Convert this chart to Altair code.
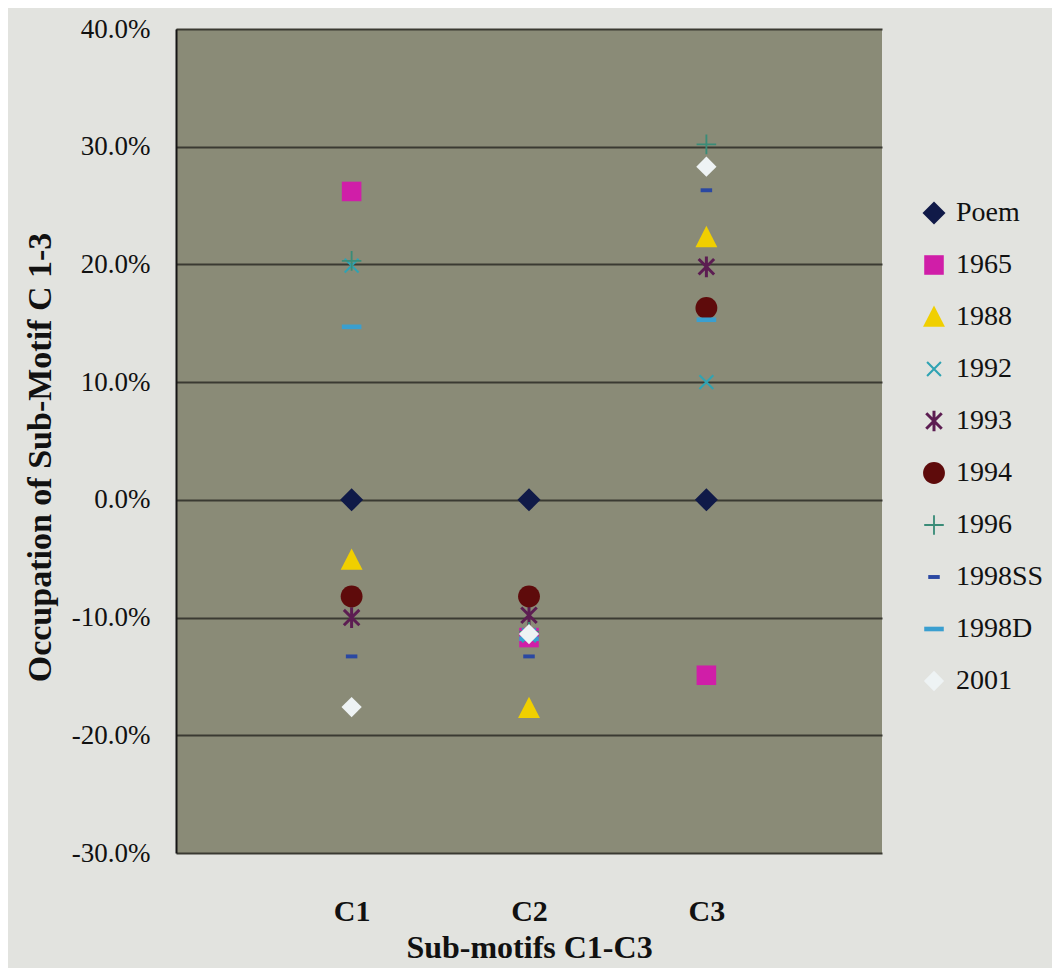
import math
import altair as alt
import pandas as pd

# ---- data ----
categories = ["C1", "C2", "C3"]
series = ["Poem", "1965", "1988", "1992", "1993", "1994", "1996", "1998SS", "1998D", "2001"]
c1_values = [0.000, 0.262, -0.051, 0.199, -0.100, -0.082, 0.203, -0.133, 0.147, -0.176]
c2_values = [0.000, -0.117, -0.177, -0.115, -0.098, -0.082, -0.112, -0.133, -0.118, -0.114]
c3_values = [0.000, -0.149, 0.223, 0.100, 0.198, 0.163, 0.302, 0.263, 0.153, 0.283]
y_ticks = [-0.3, -0.2, -0.1, 0.0, 0.1, 0.2, 0.3, 0.4]

colors = ["#101a48", "#d01ea8", "#f0cf00", "#2fa3b3", "#5c1d52", "#5e0b0b",
          "#3a8c78", "#2a48a2", "#3a9fd0", "#eef3f4"]


# ---- marker shapes (style only) ----
def bar(length, half_t, angle_deg):
    a = math.radians(angle_deg)
    ca, sa = math.cos(a), math.sin(a)
    pts = [(-length, -half_t), (length, -half_t), (length, half_t), (-length, half_t)]
    rp = [(x * ca - y * sa, x * sa + y * ca) for x, y in pts]
    return "M" + " L".join(f"{x:.3f},{y:.3f}" for x, y in rp) + " Z"


diamond = "M-1,0 L0,-1 L1,0 L0,1 Z"
square = "M-0.85,-0.85 L0.85,-0.85 L0.85,0.85 L-0.85,0.85 Z"
triangle = "M0,-1 L0.95,0.85 L-0.95,0.85 Z"
xmark = bar(0.85, 0.09, 45) + " " + bar(0.85, 0.09, -45)
star = bar(0.95, 0.13, 45) + " " + bar(0.95, 0.13, -45) + " " + bar(0.9, 0.13, 90)
circle = "M0.95,0 A0.95,0.95 0 1,1 -0.95,0 A0.95,0.95 0 1,1 0.95,0 Z"
plus = bar(0.85, 0.08, 0) + " " + bar(0.85, 0.08, 90)
dash_small = "M-0.5,-0.17 L0.5,-0.17 L0.5,0.17 L-0.5,0.17 Z"
dash_long = "M-0.85,-0.2 L0.85,-0.2 L0.85,0.2 L-0.85,0.2 Z"
diamond_small = "M-0.88,0 L0,-0.88 L0.88,0 L0,0.88 Z"
shapes = [diamond, square, triangle, xmark, star, circle, plus, dash_small, dash_long, diamond_small]

rows = []
for i, s in enumerate(series):
    for cat, vals in zip(categories, [c1_values, c2_values, c3_values]):
        rows.append({"category": cat, "series": s, "value": vals[i], "order": i})
df = pd.DataFrame(rows)

FONT = "'Liberation Serif', 'Times New Roman', Times, serif"

legend = alt.Legend(
    title=None, orient="none", legendX=744, legendY=170, padding=0,
    labelFont=FONT, labelFontSize=28, labelColor="#111111",
    symbolSize=530, symbolStrokeWidth=0, symbolOpacity=1,
    rowPadding=24, labelOffset=8,
)

chart = alt.Chart(df).mark_point(filled=True, size=530, opacity=1, strokeWidth=0).encode(
    x=alt.X("category:N", sort=categories,
            scale=alt.Scale(type="point", padding=0.99),
            axis=alt.Axis(title="Sub-motifs C1-C3", labelAngle=0, labelFont=FONT,
                          labelFontSize=30, labelFontWeight="bold", labelColor="#111111",
                          labelPadding=43, ticks=False, domain=False, grid=False,
                          titleFont=FONT, titleFontSize=32, titleFontWeight="bold",
                          titleColor="#111111", titleY=104, titleBaseline="alphabetic")),
    y=alt.Y("value:Q", scale=alt.Scale(domain=[-0.3, 0.4], nice=False, zero=False),
            axis=alt.Axis(title="Occupation of Sub-Motif C 1-3", values=y_ticks,
                          labelExpr="replace(format(datum.value, '.1%'), '\u2212', '-')",
                          labelFont=FONT, labelFontSize=27, labelColor="#111111",
                          labelPadding=26, ticks=False,
                          domain=True, domainColor="#151515", domainWidth=2,
                          grid=True, gridColor="#3a3a32", gridWidth=2, gridOpacity=1,
                          titleFont=FONT, titleFontSize=34, titleFontWeight="bold",
                          titleColor="#111111", titleX=-136, titleY=428,
                          titleAngle=-90, titleBaseline="middle", titleAlign="center")),
    color=alt.Color("series:N", sort=series, scale=alt.Scale(domain=series, range=colors),
                    legend=legend),
    shape=alt.Shape("series:N", sort=series, scale=alt.Scale(domain=series, range=shapes),
                    legend=legend),
    order=alt.Order("order:Q"),
).properties(
    width=706, height=824,
    background="#e2e3df",
    autosize=alt.AutoSizeParams(type="none"),
    padding={"left": 168, "top": 21, "right": 170, "bottom": 115},
).configure_view(fill="#8a8b77", strokeWidth=0)

chart.save("out.html", embed_options={"renderer": "svg", "actions": False})
